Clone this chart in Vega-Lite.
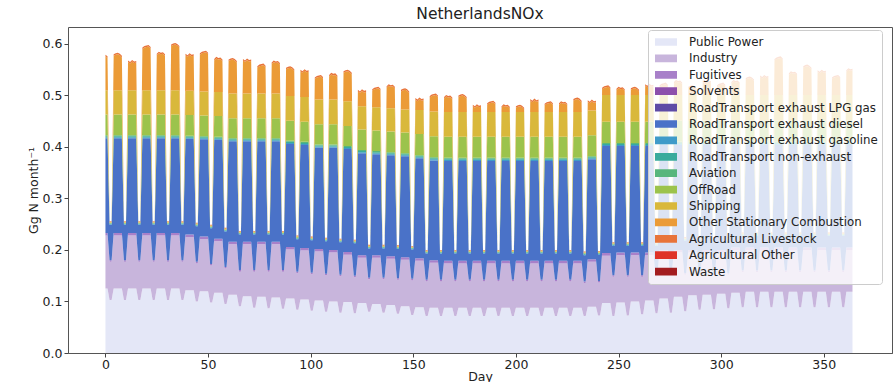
{
"$schema":"https://vega.github.io/schema/vega-lite/v6.json",
"width":824,"height":326,
"autosize":{"type":"none"},
"padding":{"left":68,"top":27,"right":2,"bottom":29},
"background":"white",
"title":{"text":"NetherlandsNOx","fontSize":15.5,"fontWeight":"normal","offset":5,"frame":"group","anchor":"middle","color":"#222","font":"DejaVu Sans"},
"config":{"font":"DejaVu Sans","view":{"stroke":"#555","strokeWidth":1},"axis":{"labelFontSize":12.5,"titleFontSize":12.5,"labelColor":"#222","titleColor":"#222","tickColor":"#444","tickSize":4,"labelPadding":2,"grid":false,"titleFontWeight":"normal"}},
"datasets":{"cat":[
{"key":"pp","name":"Public Power","k":0},
{"key":"ind","name":"Industry","k":1},
{"key":"fug","name":"Fugitives","k":2},
{"key":"dsl","name":"RoadTransport exhaust diesel","k":5},
{"key":"gas","name":"RoadTransport exhaust gasoline","k":6},
{"key":"nex","name":"RoadTransport non-exhaust","k":7},
{"key":"avi","name":"Aviation","k":8},
{"key":"off","name":"OffRoad","k":9},
{"key":"shp","name":"Shipping","k":10},
{"key":"osc","name":"Other Stationary Combustion","k":11},
{"key":"liv","name":"Agricultural Livestock","k":12}
]},
"data":{"values":[
{"d":0,"pp":0.125,"ind":0.103,"fug":0.005,"dsl":0.184,"gas":0.002,"nex":0.002,"avi":0.002,"off":0.04,"shp":0.047,"osc":0.066,"liv":0.003},
{"d":1,"pp":0.125,"ind":0.103,"fug":0.005,"dsl":0.184,"gas":0.002,"nex":0.002,"avi":0.002,"off":0.04,"shp":0.047,"osc":0.063,"liv":0.003},
{"d":2,"pp":0.103,"ind":0.074,"fug":0.003,"dsl":0.069,"gas":0.001,"nex":0.001,"avi":0.001,"off":0.001,"shp":0.001,"osc":0.001,"liv":0.001},
{"d":3,"pp":0.103,"ind":0.074,"fug":0.003,"dsl":0.069,"gas":0.001,"nex":0.001,"avi":0.001,"off":0.001,"shp":0.001,"osc":0.001,"liv":0.001},
{"d":4,"pp":0.125,"ind":0.103,"fug":0.005,"dsl":0.184,"gas":0.002,"nex":0.002,"avi":0.002,"off":0.04,"shp":0.047,"osc":0.067,"liv":0.003},
{"d":5,"pp":0.125,"ind":0.103,"fug":0.005,"dsl":0.184,"gas":0.002,"nex":0.002,"avi":0.002,"off":0.04,"shp":0.047,"osc":0.069,"liv":0.003},
{"d":6,"pp":0.125,"ind":0.103,"fug":0.005,"dsl":0.184,"gas":0.002,"nex":0.002,"avi":0.002,"off":0.04,"shp":0.047,"osc":0.070,"liv":0.003},
{"d":7,"pp":0.125,"ind":0.103,"fug":0.005,"dsl":0.184,"gas":0.002,"nex":0.002,"avi":0.002,"off":0.04,"shp":0.047,"osc":0.068,"liv":0.003},
{"d":8,"pp":0.125,"ind":0.103,"fug":0.005,"dsl":0.184,"gas":0.002,"nex":0.002,"avi":0.002,"off":0.04,"shp":0.047,"osc":0.064,"liv":0.003},
{"d":9,"pp":0.103,"ind":0.074,"fug":0.003,"dsl":0.069,"gas":0.001,"nex":0.001,"avi":0.001,"off":0.001,"shp":0.001,"osc":0.001,"liv":0.001},
{"d":10,"pp":0.103,"ind":0.074,"fug":0.003,"dsl":0.069,"gas":0.001,"nex":0.001,"avi":0.001,"off":0.001,"shp":0.001,"osc":0.001,"liv":0.001},
{"d":11,"pp":0.125,"ind":0.103,"fug":0.005,"dsl":0.184,"gas":0.002,"nex":0.002,"avi":0.002,"off":0.04,"shp":0.047,"osc":0.055,"liv":0.003},
{"d":12,"pp":0.125,"ind":0.103,"fug":0.005,"dsl":0.184,"gas":0.002,"nex":0.002,"avi":0.002,"off":0.04,"shp":0.047,"osc":0.052,"liv":0.003},
{"d":13,"pp":0.125,"ind":0.103,"fug":0.005,"dsl":0.184,"gas":0.002,"nex":0.002,"avi":0.002,"off":0.04,"shp":0.047,"osc":0.056,"liv":0.003},
{"d":14,"pp":0.125,"ind":0.103,"fug":0.005,"dsl":0.184,"gas":0.002,"nex":0.002,"avi":0.002,"off":0.04,"shp":0.047,"osc":0.053,"liv":0.003},
{"d":15,"pp":0.125,"ind":0.103,"fug":0.005,"dsl":0.184,"gas":0.002,"nex":0.002,"avi":0.002,"off":0.04,"shp":0.047,"osc":0.054,"liv":0.003},
{"d":16,"pp":0.103,"ind":0.074,"fug":0.003,"dsl":0.069,"gas":0.001,"nex":0.001,"avi":0.001,"off":0.001,"shp":0.001,"osc":0.001,"liv":0.001},
{"d":17,"pp":0.103,"ind":0.074,"fug":0.003,"dsl":0.069,"gas":0.001,"nex":0.001,"avi":0.001,"off":0.001,"shp":0.001,"osc":0.001,"liv":0.001},
{"d":18,"pp":0.125,"ind":0.103,"fug":0.005,"dsl":0.184,"gas":0.002,"nex":0.002,"avi":0.002,"off":0.04,"shp":0.047,"osc":0.080,"liv":0.003},
{"d":19,"pp":0.125,"ind":0.103,"fug":0.005,"dsl":0.184,"gas":0.002,"nex":0.002,"avi":0.002,"off":0.04,"shp":0.047,"osc":0.083,"liv":0.003},
{"d":20,"pp":0.125,"ind":0.103,"fug":0.005,"dsl":0.184,"gas":0.002,"nex":0.002,"avi":0.002,"off":0.04,"shp":0.047,"osc":0.084,"liv":0.003},
{"d":21,"pp":0.125,"ind":0.103,"fug":0.005,"dsl":0.184,"gas":0.002,"nex":0.002,"avi":0.002,"off":0.04,"shp":0.047,"osc":0.085,"liv":0.003},
{"d":22,"pp":0.125,"ind":0.103,"fug":0.005,"dsl":0.184,"gas":0.002,"nex":0.002,"avi":0.002,"off":0.04,"shp":0.047,"osc":0.081,"liv":0.003},
{"d":23,"pp":0.103,"ind":0.074,"fug":0.003,"dsl":0.069,"gas":0.001,"nex":0.001,"avi":0.001,"off":0.001,"shp":0.001,"osc":0.001,"liv":0.001},
{"d":24,"pp":0.103,"ind":0.074,"fug":0.003,"dsl":0.069,"gas":0.001,"nex":0.001,"avi":0.001,"off":0.001,"shp":0.001,"osc":0.001,"liv":0.001},
{"d":25,"pp":0.125,"ind":0.103,"fug":0.005,"dsl":0.184,"gas":0.002,"nex":0.002,"avi":0.002,"off":0.04,"shp":0.047,"osc":0.068,"liv":0.003},
{"d":26,"pp":0.125,"ind":0.103,"fug":0.005,"dsl":0.184,"gas":0.002,"nex":0.002,"avi":0.002,"off":0.04,"shp":0.047,"osc":0.072,"liv":0.003},
{"d":27,"pp":0.125,"ind":0.103,"fug":0.005,"dsl":0.184,"gas":0.002,"nex":0.002,"avi":0.002,"off":0.04,"shp":0.047,"osc":0.070,"liv":0.003},
{"d":28,"pp":0.125,"ind":0.103,"fug":0.005,"dsl":0.184,"gas":0.002,"nex":0.002,"avi":0.002,"off":0.04,"shp":0.047,"osc":0.071,"liv":0.003},
{"d":29,"pp":0.125,"ind":0.103,"fug":0.005,"dsl":0.184,"gas":0.002,"nex":0.002,"avi":0.002,"off":0.04,"shp":0.047,"osc":0.067,"liv":0.003},
{"d":30,"pp":0.103,"ind":0.074,"fug":0.003,"dsl":0.069,"gas":0.001,"nex":0.001,"avi":0.001,"off":0.001,"shp":0.001,"osc":0.001,"liv":0.001},
{"d":31,"pp":0.103,"ind":0.074,"fug":0.003,"dsl":0.069,"gas":0.001,"nex":0.001,"avi":0.001,"off":0.001,"shp":0.001,"osc":0.001,"liv":0.001},
{"d":32,"pp":0.125,"ind":0.103,"fug":0.005,"dsl":0.184,"gas":0.002,"nex":0.002,"avi":0.002,"off":0.04,"shp":0.047,"osc":0.086,"liv":0.003},
{"d":33,"pp":0.125,"ind":0.103,"fug":0.005,"dsl":0.184,"gas":0.002,"nex":0.002,"avi":0.002,"off":0.04,"shp":0.047,"osc":0.088,"liv":0.003},
{"d":34,"pp":0.125,"ind":0.103,"fug":0.005,"dsl":0.184,"gas":0.002,"nex":0.002,"avi":0.002,"off":0.04,"shp":0.047,"osc":0.089,"liv":0.003},
{"d":35,"pp":0.125,"ind":0.103,"fug":0.005,"dsl":0.184,"gas":0.002,"nex":0.002,"avi":0.002,"off":0.04,"shp":0.047,"osc":0.087,"liv":0.003},
{"d":36,"pp":0.125,"ind":0.103,"fug":0.005,"dsl":0.184,"gas":0.002,"nex":0.002,"avi":0.002,"off":0.04,"shp":0.047,"osc":0.083,"liv":0.003},
{"d":37,"pp":0.103,"ind":0.074,"fug":0.003,"dsl":0.069,"gas":0.001,"nex":0.001,"avi":0.001,"off":0.001,"shp":0.001,"osc":0.001,"liv":0.001},
{"d":38,"pp":0.103,"ind":0.074,"fug":0.003,"dsl":0.069,"gas":0.001,"nex":0.001,"avi":0.001,"off":0.001,"shp":0.001,"osc":0.001,"liv":0.001},
{"d":39,"pp":0.122,"ind":0.103,"fug":0.005,"dsl":0.186,"gas":0.002,"nex":0.002,"avi":0.002,"off":0.04,"shp":0.047,"osc":0.069,"liv":0.003},
{"d":40,"pp":0.122,"ind":0.103,"fug":0.005,"dsl":0.186,"gas":0.002,"nex":0.002,"avi":0.002,"off":0.04,"shp":0.047,"osc":0.066,"liv":0.003},
{"d":41,"pp":0.122,"ind":0.103,"fug":0.005,"dsl":0.186,"gas":0.002,"nex":0.002,"avi":0.002,"off":0.04,"shp":0.047,"osc":0.070,"liv":0.003},
{"d":42,"pp":0.122,"ind":0.103,"fug":0.005,"dsl":0.186,"gas":0.002,"nex":0.002,"avi":0.002,"off":0.04,"shp":0.047,"osc":0.067,"liv":0.003},
{"d":43,"pp":0.122,"ind":0.103,"fug":0.005,"dsl":0.186,"gas":0.002,"nex":0.002,"avi":0.002,"off":0.04,"shp":0.047,"osc":0.068,"liv":0.003},
{"d":44,"pp":0.100,"ind":0.074,"fug":0.003,"dsl":0.069,"gas":0.001,"nex":0.001,"avi":0.001,"off":0.001,"shp":0.001,"osc":0.001,"liv":0.001},
{"d":45,"pp":0.100,"ind":0.074,"fug":0.003,"dsl":0.069,"gas":0.001,"nex":0.001,"avi":0.001,"off":0.001,"shp":0.001,"osc":0.001,"liv":0.001},
{"d":46,"pp":0.120,"ind":0.101,"fug":0.005,"dsl":0.189,"gas":0.002,"nex":0.002,"avi":0.002,"off":0.04,"shp":0.047,"osc":0.071,"liv":0.003},
{"d":47,"pp":0.120,"ind":0.101,"fug":0.005,"dsl":0.189,"gas":0.002,"nex":0.002,"avi":0.002,"off":0.04,"shp":0.047,"osc":0.074,"liv":0.003},
{"d":48,"pp":0.120,"ind":0.101,"fug":0.005,"dsl":0.189,"gas":0.002,"nex":0.002,"avi":0.002,"off":0.04,"shp":0.047,"osc":0.075,"liv":0.003},
{"d":49,"pp":0.120,"ind":0.101,"fug":0.005,"dsl":0.189,"gas":0.002,"nex":0.002,"avi":0.002,"off":0.04,"shp":0.047,"osc":0.076,"liv":0.003},
{"d":50,"pp":0.120,"ind":0.101,"fug":0.005,"dsl":0.189,"gas":0.002,"nex":0.002,"avi":0.002,"off":0.04,"shp":0.047,"osc":0.072,"liv":0.003},
{"d":51,"pp":0.098,"ind":0.072,"fug":0.003,"dsl":0.069,"gas":0.001,"nex":0.001,"avi":0.001,"off":0.001,"shp":0.001,"osc":0.001,"liv":0.001},
{"d":52,"pp":0.098,"ind":0.072,"fug":0.003,"dsl":0.069,"gas":0.001,"nex":0.001,"avi":0.001,"off":0.001,"shp":0.001,"osc":0.001,"liv":0.001},
{"d":53,"pp":0.117,"ind":0.100,"fug":0.005,"dsl":0.192,"gas":0.002,"nex":0.002,"avi":0.002,"off":0.04,"shp":0.047,"osc":0.061,"liv":0.003},
{"d":54,"pp":0.117,"ind":0.100,"fug":0.005,"dsl":0.192,"gas":0.002,"nex":0.002,"avi":0.002,"off":0.04,"shp":0.047,"osc":0.065,"liv":0.003},
{"d":55,"pp":0.117,"ind":0.100,"fug":0.005,"dsl":0.192,"gas":0.002,"nex":0.002,"avi":0.002,"off":0.04,"shp":0.047,"osc":0.063,"liv":0.003},
{"d":56,"pp":0.117,"ind":0.100,"fug":0.005,"dsl":0.192,"gas":0.002,"nex":0.002,"avi":0.002,"off":0.04,"shp":0.047,"osc":0.064,"liv":0.003},
{"d":57,"pp":0.117,"ind":0.100,"fug":0.005,"dsl":0.192,"gas":0.002,"nex":0.002,"avi":0.002,"off":0.04,"shp":0.047,"osc":0.060,"liv":0.003},
{"d":58,"pp":0.095,"ind":0.069,"fug":0.003,"dsl":0.069,"gas":0.001,"nex":0.001,"avi":0.001,"off":0.001,"shp":0.001,"osc":0.001,"liv":0.001},
{"d":59,"pp":0.095,"ind":0.069,"fug":0.003,"dsl":0.069,"gas":0.001,"nex":0.001,"avi":0.001,"off":0.001,"shp":0.001,"osc":0.001,"liv":0.001},
{"d":60,"pp":0.113,"ind":0.098,"fug":0.005,"dsl":0.195,"gas":0.002,"nex":0.002,"avi":0.002,"off":0.039,"shp":0.048,"osc":0.063,"liv":0.003},
{"d":61,"pp":0.113,"ind":0.098,"fug":0.005,"dsl":0.195,"gas":0.002,"nex":0.002,"avi":0.002,"off":0.039,"shp":0.048,"osc":0.065,"liv":0.003},
{"d":62,"pp":0.113,"ind":0.098,"fug":0.005,"dsl":0.195,"gas":0.002,"nex":0.002,"avi":0.002,"off":0.039,"shp":0.048,"osc":0.066,"liv":0.003},
{"d":63,"pp":0.113,"ind":0.098,"fug":0.005,"dsl":0.195,"gas":0.002,"nex":0.002,"avi":0.002,"off":0.039,"shp":0.048,"osc":0.064,"liv":0.003},
{"d":64,"pp":0.113,"ind":0.098,"fug":0.005,"dsl":0.195,"gas":0.002,"nex":0.002,"avi":0.002,"off":0.039,"shp":0.048,"osc":0.060,"liv":0.003},
{"d":65,"pp":0.091,"ind":0.067,"fug":0.003,"dsl":0.069,"gas":0.001,"nex":0.001,"avi":0.001,"off":0.001,"shp":0.001,"osc":0.001,"liv":0.001},
{"d":66,"pp":0.091,"ind":0.067,"fug":0.003,"dsl":0.069,"gas":0.001,"nex":0.001,"avi":0.001,"off":0.001,"shp":0.001,"osc":0.001,"liv":0.001},
{"d":67,"pp":0.110,"ind":0.101,"fug":0.005,"dsl":0.195,"gas":0.002,"nex":0.002,"avi":0.002,"off":0.039,"shp":0.048,"osc":0.064,"liv":0.003},
{"d":68,"pp":0.110,"ind":0.101,"fug":0.005,"dsl":0.195,"gas":0.002,"nex":0.002,"avi":0.002,"off":0.039,"shp":0.048,"osc":0.061,"liv":0.003},
{"d":69,"pp":0.110,"ind":0.101,"fug":0.005,"dsl":0.195,"gas":0.002,"nex":0.002,"avi":0.002,"off":0.039,"shp":0.048,"osc":0.065,"liv":0.003},
{"d":70,"pp":0.110,"ind":0.101,"fug":0.005,"dsl":0.195,"gas":0.002,"nex":0.002,"avi":0.002,"off":0.039,"shp":0.048,"osc":0.062,"liv":0.003},
{"d":71,"pp":0.110,"ind":0.101,"fug":0.005,"dsl":0.195,"gas":0.002,"nex":0.002,"avi":0.002,"off":0.039,"shp":0.048,"osc":0.063,"liv":0.003},
{"d":72,"pp":0.088,"ind":0.070,"fug":0.003,"dsl":0.069,"gas":0.001,"nex":0.001,"avi":0.001,"off":0.001,"shp":0.001,"osc":0.001,"liv":0.001},
{"d":73,"pp":0.088,"ind":0.070,"fug":0.003,"dsl":0.069,"gas":0.001,"nex":0.001,"avi":0.001,"off":0.001,"shp":0.001,"osc":0.001,"liv":0.001},
{"d":74,"pp":0.109,"ind":0.102,"fug":0.005,"dsl":0.195,"gas":0.002,"nex":0.002,"avi":0.002,"off":0.039,"shp":0.048,"osc":0.050,"liv":0.003},
{"d":75,"pp":0.109,"ind":0.102,"fug":0.005,"dsl":0.195,"gas":0.002,"nex":0.002,"avi":0.002,"off":0.039,"shp":0.048,"osc":0.053,"liv":0.003},
{"d":76,"pp":0.109,"ind":0.102,"fug":0.005,"dsl":0.195,"gas":0.002,"nex":0.002,"avi":0.002,"off":0.039,"shp":0.048,"osc":0.054,"liv":0.003},
{"d":77,"pp":0.109,"ind":0.102,"fug":0.005,"dsl":0.195,"gas":0.002,"nex":0.002,"avi":0.002,"off":0.039,"shp":0.048,"osc":0.055,"liv":0.003},
{"d":78,"pp":0.109,"ind":0.102,"fug":0.005,"dsl":0.195,"gas":0.002,"nex":0.002,"avi":0.002,"off":0.039,"shp":0.048,"osc":0.051,"liv":0.003},
{"d":79,"pp":0.087,"ind":0.071,"fug":0.003,"dsl":0.069,"gas":0.001,"nex":0.001,"avi":0.001,"off":0.001,"shp":0.001,"osc":0.001,"liv":0.001},
{"d":80,"pp":0.087,"ind":0.071,"fug":0.003,"dsl":0.069,"gas":0.001,"nex":0.001,"avi":0.001,"off":0.001,"shp":0.001,"osc":0.001,"liv":0.001},
{"d":81,"pp":0.108,"ind":0.103,"fug":0.005,"dsl":0.195,"gas":0.002,"nex":0.002,"avi":0.002,"off":0.039,"shp":0.048,"osc":0.057,"liv":0.003},
{"d":82,"pp":0.108,"ind":0.103,"fug":0.005,"dsl":0.195,"gas":0.002,"nex":0.002,"avi":0.002,"off":0.039,"shp":0.048,"osc":0.061,"liv":0.003},
{"d":83,"pp":0.108,"ind":0.103,"fug":0.005,"dsl":0.195,"gas":0.002,"nex":0.002,"avi":0.002,"off":0.039,"shp":0.048,"osc":0.059,"liv":0.003},
{"d":84,"pp":0.108,"ind":0.103,"fug":0.005,"dsl":0.195,"gas":0.002,"nex":0.002,"avi":0.002,"off":0.039,"shp":0.048,"osc":0.060,"liv":0.003},
{"d":85,"pp":0.108,"ind":0.103,"fug":0.005,"dsl":0.195,"gas":0.002,"nex":0.002,"avi":0.002,"off":0.039,"shp":0.048,"osc":0.056,"liv":0.003},
{"d":86,"pp":0.086,"ind":0.072,"fug":0.003,"dsl":0.069,"gas":0.001,"nex":0.001,"avi":0.001,"off":0.001,"shp":0.001,"osc":0.001,"liv":0.001},
{"d":87,"pp":0.086,"ind":0.072,"fug":0.003,"dsl":0.069,"gas":0.001,"nex":0.001,"avi":0.001,"off":0.001,"shp":0.001,"osc":0.001,"liv":0.001},
{"d":88,"pp":0.106,"ind":0.095,"fug":0.005,"dsl":0.200,"gas":0.002,"nex":0.002,"avi":0.002,"off":0.039,"shp":0.048,"osc":0.052,"liv":0.003},
{"d":89,"pp":0.106,"ind":0.095,"fug":0.005,"dsl":0.200,"gas":0.002,"nex":0.002,"avi":0.002,"off":0.039,"shp":0.048,"osc":0.054,"liv":0.003},
{"d":90,"pp":0.106,"ind":0.095,"fug":0.005,"dsl":0.200,"gas":0.002,"nex":0.002,"avi":0.002,"off":0.039,"shp":0.048,"osc":0.055,"liv":0.003},
{"d":91,"pp":0.106,"ind":0.095,"fug":0.005,"dsl":0.200,"gas":0.002,"nex":0.002,"avi":0.002,"off":0.039,"shp":0.048,"osc":0.053,"liv":0.003},
{"d":92,"pp":0.106,"ind":0.095,"fug":0.005,"dsl":0.200,"gas":0.002,"nex":0.002,"avi":0.002,"off":0.039,"shp":0.048,"osc":0.049,"liv":0.003},
{"d":93,"pp":0.084,"ind":0.071,"fug":0.003,"dsl":0.063,"gas":0.001,"nex":0.001,"avi":0.001,"off":0.001,"shp":0.001,"osc":0.001,"liv":0.001},
{"d":94,"pp":0.084,"ind":0.071,"fug":0.003,"dsl":0.063,"gas":0.001,"nex":0.001,"avi":0.001,"off":0.001,"shp":0.001,"osc":0.001,"liv":0.001},
{"d":95,"pp":0.104,"ind":0.095,"fug":0.005,"dsl":0.200,"gas":0.002,"nex":0.002,"avi":0.002,"off":0.039,"shp":0.048,"osc":0.050,"liv":0.003},
{"d":96,"pp":0.104,"ind":0.095,"fug":0.005,"dsl":0.200,"gas":0.002,"nex":0.002,"avi":0.002,"off":0.039,"shp":0.048,"osc":0.047,"liv":0.003},
{"d":97,"pp":0.104,"ind":0.095,"fug":0.005,"dsl":0.200,"gas":0.002,"nex":0.002,"avi":0.002,"off":0.039,"shp":0.048,"osc":0.051,"liv":0.003},
{"d":98,"pp":0.104,"ind":0.095,"fug":0.005,"dsl":0.200,"gas":0.002,"nex":0.002,"avi":0.002,"off":0.039,"shp":0.048,"osc":0.048,"liv":0.003},
{"d":99,"pp":0.104,"ind":0.095,"fug":0.005,"dsl":0.200,"gas":0.002,"nex":0.002,"avi":0.002,"off":0.039,"shp":0.048,"osc":0.049,"liv":0.003},
{"d":100,"pp":0.082,"ind":0.071,"fug":0.003,"dsl":0.063,"gas":0.001,"nex":0.001,"avi":0.001,"off":0.001,"shp":0.001,"osc":0.001,"liv":0.001},
{"d":101,"pp":0.082,"ind":0.071,"fug":0.003,"dsl":0.063,"gas":0.001,"nex":0.001,"avi":0.001,"off":0.001,"shp":0.001,"osc":0.001,"liv":0.001},
{"d":102,"pp":0.102,"ind":0.095,"fug":0.005,"dsl":0.197,"gas":0.002,"nex":0.002,"avi":0.002,"off":0.039,"shp":0.048,"osc":0.040,"liv":0.003},
{"d":103,"pp":0.102,"ind":0.095,"fug":0.005,"dsl":0.197,"gas":0.002,"nex":0.002,"avi":0.002,"off":0.039,"shp":0.048,"osc":0.043,"liv":0.003},
{"d":104,"pp":0.102,"ind":0.095,"fug":0.005,"dsl":0.197,"gas":0.002,"nex":0.002,"avi":0.002,"off":0.039,"shp":0.048,"osc":0.044,"liv":0.003},
{"d":105,"pp":0.102,"ind":0.095,"fug":0.005,"dsl":0.197,"gas":0.002,"nex":0.002,"avi":0.002,"off":0.039,"shp":0.048,"osc":0.045,"liv":0.003},
{"d":106,"pp":0.102,"ind":0.095,"fug":0.005,"dsl":0.197,"gas":0.002,"nex":0.002,"avi":0.002,"off":0.039,"shp":0.048,"osc":0.041,"liv":0.003},
{"d":107,"pp":0.080,"ind":0.071,"fug":0.003,"dsl":0.063,"gas":0.001,"nex":0.001,"avi":0.001,"off":0.001,"shp":0.001,"osc":0.001,"liv":0.001},
{"d":108,"pp":0.080,"ind":0.071,"fug":0.003,"dsl":0.063,"gas":0.001,"nex":0.001,"avi":0.001,"off":0.001,"shp":0.001,"osc":0.001,"liv":0.001},
{"d":109,"pp":0.100,"ind":0.095,"fug":0.005,"dsl":0.199,"gas":0.002,"nex":0.002,"avi":0.002,"off":0.039,"shp":0.048,"osc":0.045,"liv":0.003},
{"d":110,"pp":0.100,"ind":0.095,"fug":0.005,"dsl":0.199,"gas":0.002,"nex":0.002,"avi":0.002,"off":0.039,"shp":0.048,"osc":0.049,"liv":0.003},
{"d":111,"pp":0.100,"ind":0.095,"fug":0.005,"dsl":0.199,"gas":0.002,"nex":0.002,"avi":0.002,"off":0.039,"shp":0.048,"osc":0.047,"liv":0.003},
{"d":112,"pp":0.100,"ind":0.095,"fug":0.005,"dsl":0.199,"gas":0.002,"nex":0.002,"avi":0.002,"off":0.039,"shp":0.048,"osc":0.048,"liv":0.003},
{"d":113,"pp":0.100,"ind":0.095,"fug":0.005,"dsl":0.199,"gas":0.002,"nex":0.002,"avi":0.002,"off":0.039,"shp":0.048,"osc":0.044,"liv":0.003},
{"d":114,"pp":0.078,"ind":0.071,"fug":0.003,"dsl":0.063,"gas":0.001,"nex":0.001,"avi":0.001,"off":0.001,"shp":0.001,"osc":0.001,"liv":0.001},
{"d":115,"pp":0.078,"ind":0.071,"fug":0.003,"dsl":0.063,"gas":0.001,"nex":0.001,"avi":0.001,"off":0.001,"shp":0.001,"osc":0.001,"liv":0.001},
{"d":116,"pp":0.099,"ind":0.092,"fug":0.005,"dsl":0.200,"gas":0.002,"nex":0.002,"avi":0.002,"off":0.039,"shp":0.048,"osc":0.055,"liv":0.003},
{"d":117,"pp":0.099,"ind":0.092,"fug":0.005,"dsl":0.200,"gas":0.002,"nex":0.002,"avi":0.002,"off":0.039,"shp":0.048,"osc":0.057,"liv":0.003},
{"d":118,"pp":0.099,"ind":0.092,"fug":0.005,"dsl":0.200,"gas":0.002,"nex":0.002,"avi":0.002,"off":0.039,"shp":0.048,"osc":0.058,"liv":0.003},
{"d":119,"pp":0.099,"ind":0.092,"fug":0.005,"dsl":0.200,"gas":0.002,"nex":0.002,"avi":0.002,"off":0.039,"shp":0.048,"osc":0.056,"liv":0.003},
{"d":120,"pp":0.099,"ind":0.092,"fug":0.005,"dsl":0.200,"gas":0.002,"nex":0.002,"avi":0.002,"off":0.039,"shp":0.048,"osc":0.052,"liv":0.003},
{"d":121,"pp":0.077,"ind":0.070,"fug":0.003,"dsl":0.063,"gas":0.001,"nex":0.001,"avi":0.001,"off":0.001,"shp":0.001,"osc":0.001,"liv":0.001},
{"d":122,"pp":0.077,"ind":0.070,"fug":0.003,"dsl":0.063,"gas":0.001,"nex":0.001,"avi":0.001,"off":0.001,"shp":0.001,"osc":0.001,"liv":0.001},
{"d":123,"pp":0.097,"ind":0.088,"fug":0.005,"dsl":0.198,"gas":0.002,"nex":0.002,"avi":0.002,"off":0.04,"shp":0.045,"osc":0.029,"liv":0.003},
{"d":124,"pp":0.097,"ind":0.088,"fug":0.005,"dsl":0.198,"gas":0.002,"nex":0.002,"avi":0.002,"off":0.04,"shp":0.045,"osc":0.026,"liv":0.003},
{"d":125,"pp":0.097,"ind":0.088,"fug":0.005,"dsl":0.198,"gas":0.002,"nex":0.002,"avi":0.002,"off":0.04,"shp":0.045,"osc":0.030,"liv":0.003},
{"d":126,"pp":0.097,"ind":0.088,"fug":0.005,"dsl":0.198,"gas":0.002,"nex":0.002,"avi":0.002,"off":0.04,"shp":0.045,"osc":0.027,"liv":0.003},
{"d":127,"pp":0.097,"ind":0.088,"fug":0.005,"dsl":0.198,"gas":0.002,"nex":0.002,"avi":0.002,"off":0.04,"shp":0.045,"osc":0.028,"liv":0.003},
{"d":128,"pp":0.080,"ind":0.063,"fug":0.003,"dsl":0.057,"gas":0.001,"nex":0.001,"avi":0.001,"off":0.001,"shp":0.001,"osc":0.001,"liv":0.001},
{"d":129,"pp":0.080,"ind":0.063,"fug":0.003,"dsl":0.057,"gas":0.001,"nex":0.001,"avi":0.001,"off":0.001,"shp":0.001,"osc":0.001,"liv":0.001},
{"d":130,"pp":0.095,"ind":0.090,"fug":0.005,"dsl":0.196,"gas":0.002,"nex":0.002,"avi":0.002,"off":0.04,"shp":0.045,"osc":0.032,"liv":0.003},
{"d":131,"pp":0.095,"ind":0.090,"fug":0.005,"dsl":0.196,"gas":0.002,"nex":0.002,"avi":0.002,"off":0.04,"shp":0.045,"osc":0.035,"liv":0.003},
{"d":132,"pp":0.095,"ind":0.090,"fug":0.005,"dsl":0.196,"gas":0.002,"nex":0.002,"avi":0.002,"off":0.04,"shp":0.045,"osc":0.036,"liv":0.003},
{"d":133,"pp":0.095,"ind":0.090,"fug":0.005,"dsl":0.196,"gas":0.002,"nex":0.002,"avi":0.002,"off":0.04,"shp":0.045,"osc":0.037,"liv":0.003},
{"d":134,"pp":0.095,"ind":0.090,"fug":0.005,"dsl":0.196,"gas":0.002,"nex":0.002,"avi":0.002,"off":0.04,"shp":0.045,"osc":0.033,"liv":0.003},
{"d":135,"pp":0.078,"ind":0.065,"fug":0.003,"dsl":0.057,"gas":0.001,"nex":0.001,"avi":0.001,"off":0.001,"shp":0.001,"osc":0.001,"liv":0.001},
{"d":136,"pp":0.078,"ind":0.065,"fug":0.003,"dsl":0.057,"gas":0.001,"nex":0.001,"avi":0.001,"off":0.001,"shp":0.001,"osc":0.001,"liv":0.001},
{"d":137,"pp":0.093,"ind":0.090,"fug":0.005,"dsl":0.196,"gas":0.002,"nex":0.002,"avi":0.002,"off":0.04,"shp":0.045,"osc":0.040,"liv":0.003},
{"d":138,"pp":0.093,"ind":0.090,"fug":0.005,"dsl":0.196,"gas":0.002,"nex":0.002,"avi":0.002,"off":0.04,"shp":0.045,"osc":0.044,"liv":0.003},
{"d":139,"pp":0.093,"ind":0.090,"fug":0.005,"dsl":0.196,"gas":0.002,"nex":0.002,"avi":0.002,"off":0.04,"shp":0.045,"osc":0.042,"liv":0.003},
{"d":140,"pp":0.093,"ind":0.090,"fug":0.005,"dsl":0.196,"gas":0.002,"nex":0.002,"avi":0.002,"off":0.04,"shp":0.045,"osc":0.043,"liv":0.003},
{"d":141,"pp":0.093,"ind":0.090,"fug":0.005,"dsl":0.196,"gas":0.002,"nex":0.002,"avi":0.002,"off":0.04,"shp":0.045,"osc":0.039,"liv":0.003},
{"d":142,"pp":0.076,"ind":0.066,"fug":0.003,"dsl":0.057,"gas":0.001,"nex":0.001,"avi":0.001,"off":0.001,"shp":0.001,"osc":0.001,"liv":0.001},
{"d":143,"pp":0.076,"ind":0.066,"fug":0.003,"dsl":0.057,"gas":0.001,"nex":0.001,"avi":0.001,"off":0.001,"shp":0.001,"osc":0.001,"liv":0.001},
{"d":144,"pp":0.091,"ind":0.090,"fug":0.005,"dsl":0.196,"gas":0.002,"nex":0.002,"avi":0.002,"off":0.04,"shp":0.045,"osc":0.035,"liv":0.003},
{"d":145,"pp":0.091,"ind":0.090,"fug":0.005,"dsl":0.196,"gas":0.002,"nex":0.002,"avi":0.002,"off":0.04,"shp":0.045,"osc":0.037,"liv":0.003},
{"d":146,"pp":0.091,"ind":0.090,"fug":0.005,"dsl":0.196,"gas":0.002,"nex":0.002,"avi":0.002,"off":0.04,"shp":0.045,"osc":0.038,"liv":0.003},
{"d":147,"pp":0.091,"ind":0.090,"fug":0.005,"dsl":0.196,"gas":0.002,"nex":0.002,"avi":0.002,"off":0.04,"shp":0.045,"osc":0.036,"liv":0.003},
{"d":148,"pp":0.091,"ind":0.090,"fug":0.005,"dsl":0.196,"gas":0.002,"nex":0.002,"avi":0.002,"off":0.04,"shp":0.045,"osc":0.032,"liv":0.003},
{"d":149,"pp":0.074,"ind":0.067,"fug":0.003,"dsl":0.057,"gas":0.001,"nex":0.001,"avi":0.001,"off":0.001,"shp":0.001,"osc":0.001,"liv":0.001},
{"d":150,"pp":0.074,"ind":0.067,"fug":0.003,"dsl":0.057,"gas":0.001,"nex":0.001,"avi":0.001,"off":0.001,"shp":0.001,"osc":0.001,"liv":0.001},
{"d":151,"pp":0.089,"ind":0.090,"fug":0.005,"dsl":0.194,"gas":0.002,"nex":0.002,"avi":0.002,"off":0.041,"shp":0.047,"osc":0.020,"liv":0.003},
{"d":152,"pp":0.089,"ind":0.090,"fug":0.005,"dsl":0.194,"gas":0.002,"nex":0.002,"avi":0.002,"off":0.041,"shp":0.047,"osc":0.017,"liv":0.003},
{"d":153,"pp":0.089,"ind":0.090,"fug":0.005,"dsl":0.194,"gas":0.002,"nex":0.002,"avi":0.002,"off":0.041,"shp":0.047,"osc":0.021,"liv":0.003},
{"d":154,"pp":0.089,"ind":0.090,"fug":0.005,"dsl":0.194,"gas":0.002,"nex":0.002,"avi":0.002,"off":0.041,"shp":0.047,"osc":0.018,"liv":0.003},
{"d":155,"pp":0.089,"ind":0.090,"fug":0.005,"dsl":0.194,"gas":0.002,"nex":0.002,"avi":0.002,"off":0.041,"shp":0.047,"osc":0.019,"liv":0.003},
{"d":156,"pp":0.072,"ind":0.067,"fug":0.003,"dsl":0.051,"gas":0.001,"nex":0.001,"avi":0.001,"off":0.001,"shp":0.001,"osc":0.001,"liv":0.001},
{"d":157,"pp":0.072,"ind":0.067,"fug":0.003,"dsl":0.051,"gas":0.001,"nex":0.001,"avi":0.001,"off":0.001,"shp":0.001,"osc":0.001,"liv":0.001},
{"d":158,"pp":0.088,"ind":0.087,"fug":0.005,"dsl":0.194,"gas":0.002,"nex":0.002,"avi":0.002,"off":0.041,"shp":0.048,"osc":0.027,"liv":0.003},
{"d":159,"pp":0.088,"ind":0.087,"fug":0.005,"dsl":0.194,"gas":0.002,"nex":0.002,"avi":0.002,"off":0.041,"shp":0.048,"osc":0.030,"liv":0.003},
{"d":160,"pp":0.088,"ind":0.087,"fug":0.005,"dsl":0.194,"gas":0.002,"nex":0.002,"avi":0.002,"off":0.041,"shp":0.048,"osc":0.031,"liv":0.003},
{"d":161,"pp":0.088,"ind":0.087,"fug":0.005,"dsl":0.194,"gas":0.002,"nex":0.002,"avi":0.002,"off":0.041,"shp":0.048,"osc":0.032,"liv":0.003},
{"d":162,"pp":0.088,"ind":0.087,"fug":0.005,"dsl":0.194,"gas":0.002,"nex":0.002,"avi":0.002,"off":0.041,"shp":0.048,"osc":0.028,"liv":0.003},
{"d":163,"pp":0.072,"ind":0.067,"fug":0.003,"dsl":0.051,"gas":0.001,"nex":0.001,"avi":0.001,"off":0.001,"shp":0.001,"osc":0.001,"liv":0.001},
{"d":164,"pp":0.072,"ind":0.067,"fug":0.003,"dsl":0.051,"gas":0.001,"nex":0.001,"avi":0.001,"off":0.001,"shp":0.001,"osc":0.001,"liv":0.001},
{"d":165,"pp":0.088,"ind":0.086,"fug":0.005,"dsl":0.194,"gas":0.002,"nex":0.002,"avi":0.002,"off":0.041,"shp":0.048,"osc":0.026,"liv":0.003},
{"d":166,"pp":0.088,"ind":0.086,"fug":0.005,"dsl":0.194,"gas":0.002,"nex":0.002,"avi":0.002,"off":0.041,"shp":0.048,"osc":0.030,"liv":0.003},
{"d":167,"pp":0.088,"ind":0.086,"fug":0.005,"dsl":0.194,"gas":0.002,"nex":0.002,"avi":0.002,"off":0.041,"shp":0.048,"osc":0.028,"liv":0.003},
{"d":168,"pp":0.088,"ind":0.086,"fug":0.005,"dsl":0.194,"gas":0.002,"nex":0.002,"avi":0.002,"off":0.041,"shp":0.048,"osc":0.029,"liv":0.003},
{"d":169,"pp":0.088,"ind":0.086,"fug":0.005,"dsl":0.194,"gas":0.002,"nex":0.002,"avi":0.002,"off":0.041,"shp":0.048,"osc":0.025,"liv":0.003},
{"d":170,"pp":0.072,"ind":0.067,"fug":0.003,"dsl":0.051,"gas":0.001,"nex":0.001,"avi":0.001,"off":0.001,"shp":0.001,"osc":0.001,"liv":0.001},
{"d":171,"pp":0.072,"ind":0.067,"fug":0.003,"dsl":0.051,"gas":0.001,"nex":0.001,"avi":0.001,"off":0.001,"shp":0.001,"osc":0.001,"liv":0.001},
{"d":172,"pp":0.088,"ind":0.086,"fug":0.005,"dsl":0.194,"gas":0.002,"nex":0.002,"avi":0.002,"off":0.041,"shp":0.048,"osc":0.029,"liv":0.003},
{"d":173,"pp":0.088,"ind":0.086,"fug":0.005,"dsl":0.194,"gas":0.002,"nex":0.002,"avi":0.002,"off":0.041,"shp":0.048,"osc":0.031,"liv":0.003},
{"d":174,"pp":0.088,"ind":0.086,"fug":0.005,"dsl":0.194,"gas":0.002,"nex":0.002,"avi":0.002,"off":0.041,"shp":0.048,"osc":0.032,"liv":0.003},
{"d":175,"pp":0.088,"ind":0.086,"fug":0.005,"dsl":0.194,"gas":0.002,"nex":0.002,"avi":0.002,"off":0.041,"shp":0.048,"osc":0.030,"liv":0.003},
{"d":176,"pp":0.088,"ind":0.086,"fug":0.005,"dsl":0.194,"gas":0.002,"nex":0.002,"avi":0.002,"off":0.041,"shp":0.048,"osc":0.026,"liv":0.003},
{"d":177,"pp":0.072,"ind":0.067,"fug":0.003,"dsl":0.051,"gas":0.001,"nex":0.001,"avi":0.001,"off":0.001,"shp":0.001,"osc":0.001,"liv":0.001},
{"d":178,"pp":0.072,"ind":0.067,"fug":0.003,"dsl":0.051,"gas":0.001,"nex":0.001,"avi":0.001,"off":0.001,"shp":0.001,"osc":0.001,"liv":0.001},
{"d":179,"pp":0.088,"ind":0.086,"fug":0.005,"dsl":0.194,"gas":0.002,"nex":0.002,"avi":0.002,"off":0.041,"shp":0.048,"osc":0.011,"liv":0.003},
{"d":180,"pp":0.088,"ind":0.086,"fug":0.005,"dsl":0.194,"gas":0.002,"nex":0.002,"avi":0.002,"off":0.041,"shp":0.048,"osc":0.008,"liv":0.003},
{"d":181,"pp":0.088,"ind":0.086,"fug":0.005,"dsl":0.194,"gas":0.002,"nex":0.002,"avi":0.002,"off":0.041,"shp":0.048,"osc":0.012,"liv":0.003},
{"d":182,"pp":0.088,"ind":0.086,"fug":0.005,"dsl":0.194,"gas":0.002,"nex":0.002,"avi":0.002,"off":0.041,"shp":0.048,"osc":0.009,"liv":0.003},
{"d":183,"pp":0.088,"ind":0.086,"fug":0.005,"dsl":0.194,"gas":0.002,"nex":0.002,"avi":0.002,"off":0.041,"shp":0.048,"osc":0.010,"liv":0.003},
{"d":184,"pp":0.072,"ind":0.067,"fug":0.003,"dsl":0.051,"gas":0.001,"nex":0.001,"avi":0.001,"off":0.001,"shp":0.001,"osc":0.001,"liv":0.001},
{"d":185,"pp":0.072,"ind":0.067,"fug":0.003,"dsl":0.051,"gas":0.001,"nex":0.001,"avi":0.001,"off":0.001,"shp":0.001,"osc":0.001,"liv":0.001},
{"d":186,"pp":0.088,"ind":0.086,"fug":0.005,"dsl":0.194,"gas":0.002,"nex":0.002,"avi":0.002,"off":0.041,"shp":0.048,"osc":0.014,"liv":0.003},
{"d":187,"pp":0.088,"ind":0.086,"fug":0.005,"dsl":0.194,"gas":0.002,"nex":0.002,"avi":0.002,"off":0.041,"shp":0.048,"osc":0.017,"liv":0.003},
{"d":188,"pp":0.088,"ind":0.086,"fug":0.005,"dsl":0.194,"gas":0.002,"nex":0.002,"avi":0.002,"off":0.041,"shp":0.048,"osc":0.018,"liv":0.003},
{"d":189,"pp":0.088,"ind":0.086,"fug":0.005,"dsl":0.194,"gas":0.002,"nex":0.002,"avi":0.002,"off":0.041,"shp":0.048,"osc":0.019,"liv":0.003},
{"d":190,"pp":0.088,"ind":0.086,"fug":0.005,"dsl":0.194,"gas":0.002,"nex":0.002,"avi":0.002,"off":0.041,"shp":0.048,"osc":0.015,"liv":0.003},
{"d":191,"pp":0.072,"ind":0.067,"fug":0.003,"dsl":0.051,"gas":0.001,"nex":0.001,"avi":0.001,"off":0.001,"shp":0.001,"osc":0.001,"liv":0.001},
{"d":192,"pp":0.072,"ind":0.067,"fug":0.003,"dsl":0.051,"gas":0.001,"nex":0.001,"avi":0.001,"off":0.001,"shp":0.001,"osc":0.001,"liv":0.001},
{"d":193,"pp":0.088,"ind":0.086,"fug":0.005,"dsl":0.194,"gas":0.002,"nex":0.002,"avi":0.002,"off":0.041,"shp":0.048,"osc":0.008,"liv":0.003},
{"d":194,"pp":0.088,"ind":0.086,"fug":0.005,"dsl":0.194,"gas":0.002,"nex":0.002,"avi":0.002,"off":0.041,"shp":0.048,"osc":0.012,"liv":0.003},
{"d":195,"pp":0.088,"ind":0.086,"fug":0.005,"dsl":0.194,"gas":0.002,"nex":0.002,"avi":0.002,"off":0.041,"shp":0.048,"osc":0.010,"liv":0.003},
{"d":196,"pp":0.088,"ind":0.086,"fug":0.005,"dsl":0.194,"gas":0.002,"nex":0.002,"avi":0.002,"off":0.041,"shp":0.048,"osc":0.011,"liv":0.003},
{"d":197,"pp":0.088,"ind":0.086,"fug":0.005,"dsl":0.194,"gas":0.002,"nex":0.002,"avi":0.002,"off":0.041,"shp":0.048,"osc":0.007,"liv":0.003},
{"d":198,"pp":0.072,"ind":0.067,"fug":0.003,"dsl":0.051,"gas":0.001,"nex":0.001,"avi":0.001,"off":0.001,"shp":0.001,"osc":0.001,"liv":0.001},
{"d":199,"pp":0.072,"ind":0.067,"fug":0.003,"dsl":0.051,"gas":0.001,"nex":0.001,"avi":0.001,"off":0.001,"shp":0.001,"osc":0.001,"liv":0.001},
{"d":200,"pp":0.088,"ind":0.086,"fug":0.005,"dsl":0.194,"gas":0.002,"nex":0.002,"avi":0.002,"off":0.041,"shp":0.048,"osc":0.008,"liv":0.003},
{"d":201,"pp":0.088,"ind":0.086,"fug":0.005,"dsl":0.194,"gas":0.002,"nex":0.002,"avi":0.002,"off":0.041,"shp":0.048,"osc":0.010,"liv":0.003},
{"d":202,"pp":0.088,"ind":0.086,"fug":0.005,"dsl":0.194,"gas":0.002,"nex":0.002,"avi":0.002,"off":0.041,"shp":0.048,"osc":0.011,"liv":0.003},
{"d":203,"pp":0.088,"ind":0.086,"fug":0.005,"dsl":0.194,"gas":0.002,"nex":0.002,"avi":0.002,"off":0.041,"shp":0.048,"osc":0.009,"liv":0.003},
{"d":204,"pp":0.088,"ind":0.086,"fug":0.005,"dsl":0.194,"gas":0.002,"nex":0.002,"avi":0.002,"off":0.041,"shp":0.048,"osc":0.005,"liv":0.003},
{"d":205,"pp":0.072,"ind":0.067,"fug":0.003,"dsl":0.051,"gas":0.001,"nex":0.001,"avi":0.001,"off":0.001,"shp":0.001,"osc":0.001,"liv":0.001},
{"d":206,"pp":0.072,"ind":0.067,"fug":0.003,"dsl":0.051,"gas":0.001,"nex":0.001,"avi":0.001,"off":0.001,"shp":0.001,"osc":0.001,"liv":0.001},
{"d":207,"pp":0.088,"ind":0.086,"fug":0.005,"dsl":0.194,"gas":0.002,"nex":0.002,"avi":0.002,"off":0.041,"shp":0.048,"osc":0.022,"liv":0.003},
{"d":208,"pp":0.088,"ind":0.086,"fug":0.005,"dsl":0.194,"gas":0.002,"nex":0.002,"avi":0.002,"off":0.041,"shp":0.048,"osc":0.019,"liv":0.003},
{"d":209,"pp":0.088,"ind":0.086,"fug":0.005,"dsl":0.194,"gas":0.002,"nex":0.002,"avi":0.002,"off":0.041,"shp":0.048,"osc":0.023,"liv":0.003},
{"d":210,"pp":0.088,"ind":0.086,"fug":0.005,"dsl":0.194,"gas":0.002,"nex":0.002,"avi":0.002,"off":0.041,"shp":0.048,"osc":0.020,"liv":0.003},
{"d":211,"pp":0.088,"ind":0.086,"fug":0.005,"dsl":0.194,"gas":0.002,"nex":0.002,"avi":0.002,"off":0.041,"shp":0.048,"osc":0.021,"liv":0.003},
{"d":212,"pp":0.072,"ind":0.067,"fug":0.003,"dsl":0.051,"gas":0.001,"nex":0.001,"avi":0.001,"off":0.001,"shp":0.001,"osc":0.001,"liv":0.001},
{"d":213,"pp":0.072,"ind":0.067,"fug":0.003,"dsl":0.051,"gas":0.001,"nex":0.001,"avi":0.001,"off":0.001,"shp":0.001,"osc":0.001,"liv":0.001},
{"d":214,"pp":0.088,"ind":0.086,"fug":0.005,"dsl":0.194,"gas":0.002,"nex":0.002,"avi":0.002,"off":0.041,"shp":0.048,"osc":0.013,"liv":0.003},
{"d":215,"pp":0.088,"ind":0.086,"fug":0.005,"dsl":0.194,"gas":0.002,"nex":0.002,"avi":0.002,"off":0.041,"shp":0.048,"osc":0.016,"liv":0.003},
{"d":216,"pp":0.088,"ind":0.086,"fug":0.005,"dsl":0.194,"gas":0.002,"nex":0.002,"avi":0.002,"off":0.041,"shp":0.048,"osc":0.017,"liv":0.003},
{"d":217,"pp":0.088,"ind":0.086,"fug":0.005,"dsl":0.194,"gas":0.002,"nex":0.002,"avi":0.002,"off":0.041,"shp":0.048,"osc":0.018,"liv":0.003},
{"d":218,"pp":0.088,"ind":0.086,"fug":0.005,"dsl":0.194,"gas":0.002,"nex":0.002,"avi":0.002,"off":0.041,"shp":0.048,"osc":0.014,"liv":0.003},
{"d":219,"pp":0.072,"ind":0.067,"fug":0.003,"dsl":0.051,"gas":0.001,"nex":0.001,"avi":0.001,"off":0.001,"shp":0.001,"osc":0.001,"liv":0.001},
{"d":220,"pp":0.072,"ind":0.067,"fug":0.003,"dsl":0.051,"gas":0.001,"nex":0.001,"avi":0.001,"off":0.001,"shp":0.001,"osc":0.001,"liv":0.001},
{"d":221,"pp":0.088,"ind":0.086,"fug":0.005,"dsl":0.194,"gas":0.002,"nex":0.002,"avi":0.002,"off":0.041,"shp":0.048,"osc":0.014,"liv":0.003},
{"d":222,"pp":0.088,"ind":0.086,"fug":0.005,"dsl":0.194,"gas":0.002,"nex":0.002,"avi":0.002,"off":0.041,"shp":0.048,"osc":0.018,"liv":0.003},
{"d":223,"pp":0.088,"ind":0.086,"fug":0.005,"dsl":0.194,"gas":0.002,"nex":0.002,"avi":0.002,"off":0.041,"shp":0.048,"osc":0.016,"liv":0.003},
{"d":224,"pp":0.088,"ind":0.086,"fug":0.005,"dsl":0.194,"gas":0.002,"nex":0.002,"avi":0.002,"off":0.041,"shp":0.048,"osc":0.017,"liv":0.003},
{"d":225,"pp":0.088,"ind":0.086,"fug":0.005,"dsl":0.194,"gas":0.002,"nex":0.002,"avi":0.002,"off":0.041,"shp":0.048,"osc":0.013,"liv":0.003},
{"d":226,"pp":0.072,"ind":0.067,"fug":0.003,"dsl":0.051,"gas":0.001,"nex":0.001,"avi":0.001,"off":0.001,"shp":0.001,"osc":0.001,"liv":0.001},
{"d":227,"pp":0.072,"ind":0.067,"fug":0.003,"dsl":0.051,"gas":0.001,"nex":0.001,"avi":0.001,"off":0.001,"shp":0.001,"osc":0.001,"liv":0.001},
{"d":228,"pp":0.088,"ind":0.086,"fug":0.005,"dsl":0.194,"gas":0.002,"nex":0.002,"avi":0.002,"off":0.041,"shp":0.048,"osc":0.022,"liv":0.003},
{"d":229,"pp":0.088,"ind":0.086,"fug":0.005,"dsl":0.194,"gas":0.002,"nex":0.002,"avi":0.002,"off":0.041,"shp":0.048,"osc":0.024,"liv":0.003},
{"d":230,"pp":0.088,"ind":0.086,"fug":0.005,"dsl":0.194,"gas":0.002,"nex":0.002,"avi":0.002,"off":0.041,"shp":0.048,"osc":0.025,"liv":0.003},
{"d":231,"pp":0.088,"ind":0.086,"fug":0.005,"dsl":0.194,"gas":0.002,"nex":0.002,"avi":0.002,"off":0.041,"shp":0.048,"osc":0.023,"liv":0.003},
{"d":232,"pp":0.088,"ind":0.086,"fug":0.005,"dsl":0.194,"gas":0.002,"nex":0.002,"avi":0.002,"off":0.041,"shp":0.048,"osc":0.019,"liv":0.003},
{"d":233,"pp":0.072,"ind":0.064,"fug":0.003,"dsl":0.051,"gas":0.001,"nex":0.001,"avi":0.001,"off":0.001,"shp":0.001,"osc":0.001,"liv":0.001},
{"d":234,"pp":0.072,"ind":0.064,"fug":0.003,"dsl":0.051,"gas":0.001,"nex":0.001,"avi":0.001,"off":0.001,"shp":0.001,"osc":0.001,"liv":0.001},
{"d":235,"pp":0.090,"ind":0.087,"fug":0.005,"dsl":0.194,"gas":0.002,"nex":0.002,"avi":0.002,"off":0.041,"shp":0.048,"osc":0.017,"liv":0.003},
{"d":236,"pp":0.090,"ind":0.087,"fug":0.005,"dsl":0.194,"gas":0.002,"nex":0.002,"avi":0.002,"off":0.041,"shp":0.048,"osc":0.014,"liv":0.003},
{"d":237,"pp":0.090,"ind":0.087,"fug":0.005,"dsl":0.194,"gas":0.002,"nex":0.002,"avi":0.002,"off":0.041,"shp":0.048,"osc":0.018,"liv":0.003},
{"d":238,"pp":0.090,"ind":0.087,"fug":0.005,"dsl":0.194,"gas":0.002,"nex":0.002,"avi":0.002,"off":0.041,"shp":0.048,"osc":0.015,"liv":0.003},
{"d":239,"pp":0.090,"ind":0.087,"fug":0.005,"dsl":0.194,"gas":0.002,"nex":0.002,"avi":0.002,"off":0.041,"shp":0.048,"osc":0.016,"liv":0.003},
{"d":240,"pp":0.073,"ind":0.064,"fug":0.003,"dsl":0.051,"gas":0.001,"nex":0.001,"avi":0.001,"off":0.001,"shp":0.001,"osc":0.001,"liv":0.001},
{"d":241,"pp":0.073,"ind":0.064,"fug":0.003,"dsl":0.051,"gas":0.001,"nex":0.001,"avi":0.001,"off":0.001,"shp":0.001,"osc":0.001,"liv":0.001},
{"d":242,"pp":0.097,"ind":0.092,"fug":0.005,"dsl":0.208,"gas":0.002,"nex":0.002,"avi":0.002,"off":0.041,"shp":0.052,"osc":0.011,"liv":0.003},
{"d":243,"pp":0.097,"ind":0.092,"fug":0.005,"dsl":0.208,"gas":0.002,"nex":0.002,"avi":0.002,"off":0.041,"shp":0.052,"osc":0.014,"liv":0.003},
{"d":244,"pp":0.097,"ind":0.092,"fug":0.005,"dsl":0.208,"gas":0.002,"nex":0.002,"avi":0.002,"off":0.041,"shp":0.052,"osc":0.015,"liv":0.003},
{"d":245,"pp":0.097,"ind":0.092,"fug":0.005,"dsl":0.208,"gas":0.002,"nex":0.002,"avi":0.002,"off":0.041,"shp":0.052,"osc":0.016,"liv":0.003},
{"d":246,"pp":0.097,"ind":0.092,"fug":0.005,"dsl":0.208,"gas":0.002,"nex":0.002,"avi":0.002,"off":0.041,"shp":0.052,"osc":0.012,"liv":0.003},
{"d":247,"pp":0.072,"ind":0.076,"fug":0.003,"dsl":0.057,"gas":0.001,"nex":0.001,"avi":0.001,"off":0.001,"shp":0.001,"osc":0.001,"liv":0.001},
{"d":248,"pp":0.072,"ind":0.076,"fug":0.003,"dsl":0.057,"gas":0.001,"nex":0.001,"avi":0.001,"off":0.001,"shp":0.001,"osc":0.001,"liv":0.001},
{"d":249,"pp":0.098,"ind":0.092,"fug":0.005,"dsl":0.207,"gas":0.002,"nex":0.002,"avi":0.002,"off":0.041,"shp":0.052,"osc":0.009,"liv":0.003},
{"d":250,"pp":0.098,"ind":0.092,"fug":0.005,"dsl":0.207,"gas":0.002,"nex":0.002,"avi":0.002,"off":0.041,"shp":0.052,"osc":0.013,"liv":0.003},
{"d":251,"pp":0.098,"ind":0.092,"fug":0.005,"dsl":0.207,"gas":0.002,"nex":0.002,"avi":0.002,"off":0.041,"shp":0.052,"osc":0.011,"liv":0.003},
{"d":252,"pp":0.098,"ind":0.092,"fug":0.005,"dsl":0.207,"gas":0.002,"nex":0.002,"avi":0.002,"off":0.041,"shp":0.052,"osc":0.012,"liv":0.003},
{"d":253,"pp":0.098,"ind":0.092,"fug":0.005,"dsl":0.207,"gas":0.002,"nex":0.002,"avi":0.002,"off":0.041,"shp":0.052,"osc":0.008,"liv":0.003},
{"d":254,"pp":0.073,"ind":0.075,"fug":0.003,"dsl":0.057,"gas":0.001,"nex":0.001,"avi":0.001,"off":0.001,"shp":0.001,"osc":0.001,"liv":0.001},
{"d":255,"pp":0.073,"ind":0.075,"fug":0.003,"dsl":0.057,"gas":0.001,"nex":0.001,"avi":0.001,"off":0.001,"shp":0.001,"osc":0.001,"liv":0.001},
{"d":256,"pp":0.100,"ind":0.090,"fug":0.005,"dsl":0.207,"gas":0.002,"nex":0.002,"avi":0.002,"off":0.041,"shp":0.052,"osc":0.010,"liv":0.003},
{"d":257,"pp":0.100,"ind":0.090,"fug":0.005,"dsl":0.207,"gas":0.002,"nex":0.002,"avi":0.002,"off":0.041,"shp":0.052,"osc":0.012,"liv":0.003},
{"d":258,"pp":0.100,"ind":0.090,"fug":0.005,"dsl":0.207,"gas":0.002,"nex":0.002,"avi":0.002,"off":0.041,"shp":0.052,"osc":0.013,"liv":0.003},
{"d":259,"pp":0.100,"ind":0.090,"fug":0.005,"dsl":0.207,"gas":0.002,"nex":0.002,"avi":0.002,"off":0.041,"shp":0.052,"osc":0.011,"liv":0.003},
{"d":260,"pp":0.100,"ind":0.090,"fug":0.005,"dsl":0.207,"gas":0.002,"nex":0.002,"avi":0.002,"off":0.041,"shp":0.052,"osc":0.007,"liv":0.003},
{"d":261,"pp":0.075,"ind":0.073,"fug":0.003,"dsl":0.057,"gas":0.001,"nex":0.001,"avi":0.001,"off":0.001,"shp":0.001,"osc":0.001,"liv":0.001},
{"d":262,"pp":0.075,"ind":0.073,"fug":0.003,"dsl":0.057,"gas":0.001,"nex":0.001,"avi":0.001,"off":0.001,"shp":0.001,"osc":0.001,"liv":0.001},
{"d":263,"pp":0.102,"ind":0.088,"fug":0.005,"dsl":0.207,"gas":0.002,"nex":0.002,"avi":0.002,"off":0.041,"shp":0.052,"osc":0.018,"liv":0.003},
{"d":264,"pp":0.102,"ind":0.088,"fug":0.005,"dsl":0.207,"gas":0.002,"nex":0.002,"avi":0.002,"off":0.041,"shp":0.052,"osc":0.015,"liv":0.003},
{"d":265,"pp":0.102,"ind":0.088,"fug":0.005,"dsl":0.207,"gas":0.002,"nex":0.002,"avi":0.002,"off":0.041,"shp":0.052,"osc":0.019,"liv":0.003},
{"d":266,"pp":0.102,"ind":0.088,"fug":0.005,"dsl":0.207,"gas":0.002,"nex":0.002,"avi":0.002,"off":0.041,"shp":0.052,"osc":0.016,"liv":0.003},
{"d":267,"pp":0.102,"ind":0.088,"fug":0.005,"dsl":0.207,"gas":0.002,"nex":0.002,"avi":0.002,"off":0.041,"shp":0.052,"osc":0.017,"liv":0.003},
{"d":268,"pp":0.077,"ind":0.071,"fug":0.003,"dsl":0.057,"gas":0.001,"nex":0.001,"avi":0.001,"off":0.001,"shp":0.001,"osc":0.001,"liv":0.001},
{"d":269,"pp":0.077,"ind":0.071,"fug":0.003,"dsl":0.057,"gas":0.001,"nex":0.001,"avi":0.001,"off":0.001,"shp":0.001,"osc":0.001,"liv":0.001},
{"d":270,"pp":0.106,"ind":0.089,"fug":0.005,"dsl":0.204,"gas":0.002,"nex":0.002,"avi":0.002,"off":0.041,"shp":0.05,"osc":0.016,"liv":0.003},
{"d":271,"pp":0.106,"ind":0.089,"fug":0.005,"dsl":0.204,"gas":0.002,"nex":0.002,"avi":0.002,"off":0.041,"shp":0.05,"osc":0.019,"liv":0.003},
{"d":272,"pp":0.106,"ind":0.089,"fug":0.005,"dsl":0.204,"gas":0.002,"nex":0.002,"avi":0.002,"off":0.041,"shp":0.05,"osc":0.020,"liv":0.003},
{"d":273,"pp":0.106,"ind":0.089,"fug":0.005,"dsl":0.204,"gas":0.002,"nex":0.002,"avi":0.002,"off":0.041,"shp":0.05,"osc":0.021,"liv":0.003},
{"d":274,"pp":0.106,"ind":0.089,"fug":0.005,"dsl":0.204,"gas":0.002,"nex":0.002,"avi":0.002,"off":0.041,"shp":0.05,"osc":0.017,"liv":0.003},
{"d":275,"pp":0.078,"ind":0.074,"fug":0.003,"dsl":0.063,"gas":0.001,"nex":0.001,"avi":0.001,"off":0.001,"shp":0.001,"osc":0.001,"liv":0.001},
{"d":276,"pp":0.078,"ind":0.074,"fug":0.003,"dsl":0.063,"gas":0.001,"nex":0.001,"avi":0.001,"off":0.001,"shp":0.001,"osc":0.001,"liv":0.001},
{"d":277,"pp":0.109,"ind":0.086,"fug":0.005,"dsl":0.204,"gas":0.002,"nex":0.002,"avi":0.002,"off":0.041,"shp":0.05,"osc":0.022,"liv":0.003},
{"d":278,"pp":0.109,"ind":0.086,"fug":0.005,"dsl":0.204,"gas":0.002,"nex":0.002,"avi":0.002,"off":0.041,"shp":0.05,"osc":0.026,"liv":0.003},
{"d":279,"pp":0.109,"ind":0.086,"fug":0.005,"dsl":0.204,"gas":0.002,"nex":0.002,"avi":0.002,"off":0.041,"shp":0.05,"osc":0.024,"liv":0.003},
{"d":280,"pp":0.109,"ind":0.086,"fug":0.005,"dsl":0.204,"gas":0.002,"nex":0.002,"avi":0.002,"off":0.041,"shp":0.05,"osc":0.025,"liv":0.003},
{"d":281,"pp":0.109,"ind":0.086,"fug":0.005,"dsl":0.204,"gas":0.002,"nex":0.002,"avi":0.002,"off":0.041,"shp":0.05,"osc":0.021,"liv":0.003},
{"d":282,"pp":0.081,"ind":0.071,"fug":0.003,"dsl":0.063,"gas":0.001,"nex":0.001,"avi":0.001,"off":0.001,"shp":0.001,"osc":0.001,"liv":0.001},
{"d":283,"pp":0.081,"ind":0.071,"fug":0.003,"dsl":0.063,"gas":0.001,"nex":0.001,"avi":0.001,"off":0.001,"shp":0.001,"osc":0.001,"liv":0.001},
{"d":284,"pp":0.112,"ind":0.083,"fug":0.005,"dsl":0.204,"gas":0.002,"nex":0.002,"avi":0.002,"off":0.041,"shp":0.05,"osc":0.013,"liv":0.003},
{"d":285,"pp":0.112,"ind":0.083,"fug":0.005,"dsl":0.204,"gas":0.002,"nex":0.002,"avi":0.002,"off":0.041,"shp":0.05,"osc":0.015,"liv":0.003},
{"d":286,"pp":0.112,"ind":0.083,"fug":0.005,"dsl":0.204,"gas":0.002,"nex":0.002,"avi":0.002,"off":0.041,"shp":0.05,"osc":0.016,"liv":0.003},
{"d":287,"pp":0.112,"ind":0.083,"fug":0.005,"dsl":0.204,"gas":0.002,"nex":0.002,"avi":0.002,"off":0.041,"shp":0.05,"osc":0.014,"liv":0.003},
{"d":288,"pp":0.112,"ind":0.083,"fug":0.005,"dsl":0.204,"gas":0.002,"nex":0.002,"avi":0.002,"off":0.041,"shp":0.05,"osc":0.010,"liv":0.003},
{"d":289,"pp":0.084,"ind":0.068,"fug":0.003,"dsl":0.063,"gas":0.001,"nex":0.001,"avi":0.001,"off":0.001,"shp":0.001,"osc":0.001,"liv":0.001},
{"d":290,"pp":0.084,"ind":0.068,"fug":0.003,"dsl":0.063,"gas":0.001,"nex":0.001,"avi":0.001,"off":0.001,"shp":0.001,"osc":0.001,"liv":0.001},
{"d":291,"pp":0.113,"ind":0.082,"fug":0.005,"dsl":0.204,"gas":0.002,"nex":0.002,"avi":0.002,"off":0.041,"shp":0.05,"osc":0.025,"liv":0.003},
{"d":292,"pp":0.113,"ind":0.082,"fug":0.005,"dsl":0.204,"gas":0.002,"nex":0.002,"avi":0.002,"off":0.041,"shp":0.05,"osc":0.022,"liv":0.003},
{"d":293,"pp":0.113,"ind":0.082,"fug":0.005,"dsl":0.204,"gas":0.002,"nex":0.002,"avi":0.002,"off":0.041,"shp":0.05,"osc":0.026,"liv":0.003},
{"d":294,"pp":0.113,"ind":0.082,"fug":0.005,"dsl":0.204,"gas":0.002,"nex":0.002,"avi":0.002,"off":0.041,"shp":0.05,"osc":0.023,"liv":0.003},
{"d":295,"pp":0.113,"ind":0.082,"fug":0.005,"dsl":0.204,"gas":0.002,"nex":0.002,"avi":0.002,"off":0.041,"shp":0.05,"osc":0.024,"liv":0.003},
{"d":296,"pp":0.085,"ind":0.067,"fug":0.003,"dsl":0.063,"gas":0.001,"nex":0.001,"avi":0.001,"off":0.001,"shp":0.001,"osc":0.001,"liv":0.001},
{"d":297,"pp":0.085,"ind":0.067,"fug":0.003,"dsl":0.063,"gas":0.001,"nex":0.001,"avi":0.001,"off":0.001,"shp":0.001,"osc":0.001,"liv":0.001},
{"d":298,"pp":0.115,"ind":0.080,"fug":0.005,"dsl":0.204,"gas":0.002,"nex":0.002,"avi":0.002,"off":0.041,"shp":0.05,"osc":0.016,"liv":0.003},
{"d":299,"pp":0.115,"ind":0.080,"fug":0.005,"dsl":0.204,"gas":0.002,"nex":0.002,"avi":0.002,"off":0.041,"shp":0.05,"osc":0.019,"liv":0.003},
{"d":300,"pp":0.115,"ind":0.080,"fug":0.005,"dsl":0.204,"gas":0.002,"nex":0.002,"avi":0.002,"off":0.041,"shp":0.05,"osc":0.020,"liv":0.003},
{"d":301,"pp":0.115,"ind":0.080,"fug":0.005,"dsl":0.204,"gas":0.002,"nex":0.002,"avi":0.002,"off":0.041,"shp":0.05,"osc":0.021,"liv":0.003},
{"d":302,"pp":0.115,"ind":0.080,"fug":0.005,"dsl":0.204,"gas":0.002,"nex":0.002,"avi":0.002,"off":0.041,"shp":0.05,"osc":0.017,"liv":0.003},
{"d":303,"pp":0.087,"ind":0.065,"fug":0.003,"dsl":0.063,"gas":0.001,"nex":0.001,"avi":0.001,"off":0.001,"shp":0.001,"osc":0.001,"liv":0.001},
{"d":304,"pp":0.087,"ind":0.065,"fug":0.003,"dsl":0.063,"gas":0.001,"nex":0.001,"avi":0.001,"off":0.001,"shp":0.001,"osc":0.001,"liv":0.001},
{"d":305,"pp":0.117,"ind":0.083,"fug":0.005,"dsl":0.199,"gas":0.002,"nex":0.002,"avi":0.002,"off":0.041,"shp":0.05,"osc":0.022,"liv":0.003},
{"d":306,"pp":0.117,"ind":0.083,"fug":0.005,"dsl":0.199,"gas":0.002,"nex":0.002,"avi":0.002,"off":0.041,"shp":0.05,"osc":0.026,"liv":0.003},
{"d":307,"pp":0.117,"ind":0.083,"fug":0.005,"dsl":0.199,"gas":0.002,"nex":0.002,"avi":0.002,"off":0.041,"shp":0.05,"osc":0.024,"liv":0.003},
{"d":308,"pp":0.117,"ind":0.083,"fug":0.005,"dsl":0.199,"gas":0.002,"nex":0.002,"avi":0.002,"off":0.041,"shp":0.05,"osc":0.025,"liv":0.003},
{"d":309,"pp":0.117,"ind":0.083,"fug":0.005,"dsl":0.199,"gas":0.002,"nex":0.002,"avi":0.002,"off":0.041,"shp":0.05,"osc":0.021,"liv":0.003},
{"d":310,"pp":0.089,"ind":0.068,"fug":0.003,"dsl":0.067,"gas":0.001,"nex":0.001,"avi":0.001,"off":0.001,"shp":0.001,"osc":0.001,"liv":0.001},
{"d":311,"pp":0.089,"ind":0.068,"fug":0.003,"dsl":0.067,"gas":0.001,"nex":0.001,"avi":0.001,"off":0.001,"shp":0.001,"osc":0.001,"liv":0.001},
{"d":312,"pp":0.119,"ind":0.081,"fug":0.005,"dsl":0.199,"gas":0.002,"nex":0.002,"avi":0.002,"off":0.041,"shp":0.05,"osc":0.030,"liv":0.003},
{"d":313,"pp":0.119,"ind":0.081,"fug":0.005,"dsl":0.199,"gas":0.002,"nex":0.002,"avi":0.002,"off":0.041,"shp":0.05,"osc":0.032,"liv":0.003},
{"d":314,"pp":0.119,"ind":0.081,"fug":0.005,"dsl":0.199,"gas":0.002,"nex":0.002,"avi":0.002,"off":0.041,"shp":0.05,"osc":0.033,"liv":0.003},
{"d":315,"pp":0.119,"ind":0.081,"fug":0.005,"dsl":0.199,"gas":0.002,"nex":0.002,"avi":0.002,"off":0.041,"shp":0.05,"osc":0.031,"liv":0.003},
{"d":316,"pp":0.119,"ind":0.081,"fug":0.005,"dsl":0.199,"gas":0.002,"nex":0.002,"avi":0.002,"off":0.041,"shp":0.05,"osc":0.027,"liv":0.003},
{"d":317,"pp":0.089,"ind":0.068,"fug":0.003,"dsl":0.067,"gas":0.001,"nex":0.001,"avi":0.001,"off":0.001,"shp":0.001,"osc":0.001,"liv":0.001},
{"d":318,"pp":0.089,"ind":0.068,"fug":0.003,"dsl":0.067,"gas":0.001,"nex":0.001,"avi":0.001,"off":0.001,"shp":0.001,"osc":0.001,"liv":0.001},
{"d":319,"pp":0.119,"ind":0.081,"fug":0.005,"dsl":0.199,"gas":0.002,"nex":0.002,"avi":0.002,"off":0.041,"shp":0.05,"osc":0.035,"liv":0.003},
{"d":320,"pp":0.119,"ind":0.081,"fug":0.005,"dsl":0.199,"gas":0.002,"nex":0.002,"avi":0.002,"off":0.041,"shp":0.05,"osc":0.032,"liv":0.003},
{"d":321,"pp":0.119,"ind":0.081,"fug":0.005,"dsl":0.199,"gas":0.002,"nex":0.002,"avi":0.002,"off":0.041,"shp":0.05,"osc":0.036,"liv":0.003},
{"d":322,"pp":0.119,"ind":0.081,"fug":0.005,"dsl":0.199,"gas":0.002,"nex":0.002,"avi":0.002,"off":0.041,"shp":0.05,"osc":0.033,"liv":0.003},
{"d":323,"pp":0.119,"ind":0.081,"fug":0.005,"dsl":0.199,"gas":0.002,"nex":0.002,"avi":0.002,"off":0.041,"shp":0.05,"osc":0.034,"liv":0.003},
{"d":324,"pp":0.089,"ind":0.068,"fug":0.003,"dsl":0.067,"gas":0.001,"nex":0.001,"avi":0.001,"off":0.001,"shp":0.001,"osc":0.001,"liv":0.001},
{"d":325,"pp":0.089,"ind":0.068,"fug":0.003,"dsl":0.067,"gas":0.001,"nex":0.001,"avi":0.001,"off":0.001,"shp":0.001,"osc":0.001,"liv":0.001},
{"d":326,"pp":0.119,"ind":0.081,"fug":0.005,"dsl":0.199,"gas":0.002,"nex":0.002,"avi":0.002,"off":0.041,"shp":0.05,"osc":0.067,"liv":0.003},
{"d":327,"pp":0.119,"ind":0.081,"fug":0.005,"dsl":0.199,"gas":0.002,"nex":0.002,"avi":0.002,"off":0.041,"shp":0.05,"osc":0.070,"liv":0.003},
{"d":328,"pp":0.119,"ind":0.081,"fug":0.005,"dsl":0.199,"gas":0.002,"nex":0.002,"avi":0.002,"off":0.041,"shp":0.05,"osc":0.071,"liv":0.003},
{"d":329,"pp":0.119,"ind":0.081,"fug":0.005,"dsl":0.199,"gas":0.002,"nex":0.002,"avi":0.002,"off":0.041,"shp":0.05,"osc":0.072,"liv":0.003},
{"d":330,"pp":0.119,"ind":0.081,"fug":0.005,"dsl":0.199,"gas":0.002,"nex":0.002,"avi":0.002,"off":0.041,"shp":0.05,"osc":0.068,"liv":0.003},
{"d":331,"pp":0.089,"ind":0.068,"fug":0.003,"dsl":0.067,"gas":0.001,"nex":0.001,"avi":0.001,"off":0.001,"shp":0.001,"osc":0.001,"liv":0.001},
{"d":332,"pp":0.089,"ind":0.068,"fug":0.003,"dsl":0.067,"gas":0.001,"nex":0.001,"avi":0.001,"off":0.001,"shp":0.001,"osc":0.001,"liv":0.001},
{"d":333,"pp":0.119,"ind":0.081,"fug":0.005,"dsl":0.199,"gas":0.002,"nex":0.002,"avi":0.002,"off":0.041,"shp":0.05,"osc":0.039,"liv":0.003},
{"d":334,"pp":0.119,"ind":0.081,"fug":0.005,"dsl":0.199,"gas":0.002,"nex":0.002,"avi":0.002,"off":0.041,"shp":0.05,"osc":0.043,"liv":0.003},
{"d":335,"pp":0.119,"ind":0.081,"fug":0.005,"dsl":0.199,"gas":0.002,"nex":0.002,"avi":0.002,"off":0.041,"shp":0.05,"osc":0.041,"liv":0.003},
{"d":336,"pp":0.119,"ind":0.081,"fug":0.005,"dsl":0.199,"gas":0.002,"nex":0.002,"avi":0.002,"off":0.041,"shp":0.05,"osc":0.042,"liv":0.003},
{"d":337,"pp":0.119,"ind":0.081,"fug":0.005,"dsl":0.199,"gas":0.002,"nex":0.002,"avi":0.002,"off":0.041,"shp":0.05,"osc":0.038,"liv":0.003},
{"d":338,"pp":0.089,"ind":0.068,"fug":0.003,"dsl":0.067,"gas":0.001,"nex":0.001,"avi":0.001,"off":0.001,"shp":0.001,"osc":0.001,"liv":0.001},
{"d":339,"pp":0.089,"ind":0.068,"fug":0.003,"dsl":0.067,"gas":0.001,"nex":0.001,"avi":0.001,"off":0.001,"shp":0.001,"osc":0.001,"liv":0.001},
{"d":340,"pp":0.119,"ind":0.081,"fug":0.005,"dsl":0.199,"gas":0.002,"nex":0.002,"avi":0.002,"off":0.041,"shp":0.05,"osc":0.053,"liv":0.003},
{"d":341,"pp":0.119,"ind":0.081,"fug":0.005,"dsl":0.199,"gas":0.002,"nex":0.002,"avi":0.002,"off":0.041,"shp":0.05,"osc":0.055,"liv":0.003},
{"d":342,"pp":0.119,"ind":0.081,"fug":0.005,"dsl":0.199,"gas":0.002,"nex":0.002,"avi":0.002,"off":0.041,"shp":0.05,"osc":0.056,"liv":0.003},
{"d":343,"pp":0.119,"ind":0.081,"fug":0.005,"dsl":0.199,"gas":0.002,"nex":0.002,"avi":0.002,"off":0.041,"shp":0.05,"osc":0.054,"liv":0.003},
{"d":344,"pp":0.119,"ind":0.081,"fug":0.005,"dsl":0.199,"gas":0.002,"nex":0.002,"avi":0.002,"off":0.041,"shp":0.05,"osc":0.050,"liv":0.003},
{"d":345,"pp":0.089,"ind":0.068,"fug":0.003,"dsl":0.067,"gas":0.001,"nex":0.001,"avi":0.001,"off":0.001,"shp":0.001,"osc":0.001,"liv":0.001},
{"d":346,"pp":0.089,"ind":0.068,"fug":0.003,"dsl":0.067,"gas":0.001,"nex":0.001,"avi":0.001,"off":0.001,"shp":0.001,"osc":0.001,"liv":0.001},
{"d":347,"pp":0.119,"ind":0.081,"fug":0.005,"dsl":0.199,"gas":0.002,"nex":0.002,"avi":0.002,"off":0.041,"shp":0.05,"osc":0.045,"liv":0.003},
{"d":348,"pp":0.119,"ind":0.081,"fug":0.005,"dsl":0.199,"gas":0.002,"nex":0.002,"avi":0.002,"off":0.041,"shp":0.05,"osc":0.042,"liv":0.003},
{"d":349,"pp":0.119,"ind":0.081,"fug":0.005,"dsl":0.199,"gas":0.002,"nex":0.002,"avi":0.002,"off":0.041,"shp":0.05,"osc":0.046,"liv":0.003},
{"d":350,"pp":0.119,"ind":0.081,"fug":0.005,"dsl":0.199,"gas":0.002,"nex":0.002,"avi":0.002,"off":0.041,"shp":0.05,"osc":0.043,"liv":0.003},
{"d":351,"pp":0.119,"ind":0.081,"fug":0.005,"dsl":0.199,"gas":0.002,"nex":0.002,"avi":0.002,"off":0.041,"shp":0.05,"osc":0.044,"liv":0.003},
{"d":352,"pp":0.089,"ind":0.068,"fug":0.003,"dsl":0.067,"gas":0.001,"nex":0.001,"avi":0.001,"off":0.001,"shp":0.001,"osc":0.001,"liv":0.001},
{"d":353,"pp":0.089,"ind":0.068,"fug":0.003,"dsl":0.067,"gas":0.001,"nex":0.001,"avi":0.001,"off":0.001,"shp":0.001,"osc":0.001,"liv":0.001},
{"d":354,"pp":0.119,"ind":0.081,"fug":0.005,"dsl":0.199,"gas":0.002,"nex":0.002,"avi":0.002,"off":0.041,"shp":0.05,"osc":0.031,"liv":0.003},
{"d":355,"pp":0.119,"ind":0.081,"fug":0.005,"dsl":0.199,"gas":0.002,"nex":0.002,"avi":0.002,"off":0.041,"shp":0.05,"osc":0.034,"liv":0.003},
{"d":356,"pp":0.119,"ind":0.081,"fug":0.005,"dsl":0.199,"gas":0.002,"nex":0.002,"avi":0.002,"off":0.041,"shp":0.05,"osc":0.035,"liv":0.003},
{"d":357,"pp":0.119,"ind":0.081,"fug":0.005,"dsl":0.199,"gas":0.002,"nex":0.002,"avi":0.002,"off":0.041,"shp":0.05,"osc":0.036,"liv":0.003},
{"d":358,"pp":0.119,"ind":0.081,"fug":0.005,"dsl":0.199,"gas":0.002,"nex":0.002,"avi":0.002,"off":0.041,"shp":0.05,"osc":0.032,"liv":0.003},
{"d":359,"pp":0.089,"ind":0.068,"fug":0.003,"dsl":0.067,"gas":0.001,"nex":0.001,"avi":0.001,"off":0.001,"shp":0.001,"osc":0.001,"liv":0.001},
{"d":360,"pp":0.089,"ind":0.068,"fug":0.003,"dsl":0.067,"gas":0.001,"nex":0.001,"avi":0.001,"off":0.001,"shp":0.001,"osc":0.001,"liv":0.001},
{"d":361,"pp":0.119,"ind":0.081,"fug":0.005,"dsl":0.199,"gas":0.002,"nex":0.002,"avi":0.002,"off":0.041,"shp":0.05,"osc":0.045,"liv":0.003},
{"d":362,"pp":0.119,"ind":0.081,"fug":0.005,"dsl":0.199,"gas":0.002,"nex":0.002,"avi":0.002,"off":0.041,"shp":0.05,"osc":0.049,"liv":0.003},
{"d":363,"pp":0.119,"ind":0.081,"fug":0.005,"dsl":0.199,"gas":0.002,"nex":0.002,"avi":0.002,"off":0.041,"shp":0.05,"osc":0.047,"liv":0.003},
{"d":364,"pp":0.119,"ind":0.081,"fug":0.005,"dsl":0.199,"gas":0.002,"nex":0.002,"avi":0.002,"off":0.041,"shp":0.05,"osc":0.048,"liv":0.003}
]},
"transform":[
{"fold":["pp","ind","fug","dsl","gas","nex","avi","off","shp","osc","liv"],"as":["key","v"]},
{"lookup":"key","from":{"data":{"name":"cat"},"key":"key","fields":["name","k"]}}
],
"mark":{"type":"area","interpolate":"linear"},
"encoding":{
"x":{"field":"d","type":"quantitative","scale":{"domain":[-18.25,383.25],"nice":false,"zero":false},"axis":{"values":[0,50,100,150,200,250,300,350],"title":"Day","titlePadding":-1,"labelPadding":1.5,"domain":true,"domainColor":"#555","zindex":1,"labelFlush":false}},
"y":{"field":"v","type":"quantitative","stack":"zero","scale":{"domain":[0,0.633],"nice":false},"axis":{"values":[0,0.1,0.2,0.3,0.4,0.5,0.6],"format":".1f","title":"Gg N month⁻¹","titlePadding":2,"domain":false}},
"color":{"field":"name","type":"nominal","scale":{"domain":["Public Power","Industry","Fugitives","Solvents","RoadTransport exhaust LPG gas","RoadTransport exhaust diesel","RoadTransport exhaust gasoline","RoadTransport non-exhaust","Aviation","OffRoad","Shipping","Other Stationary Combustion","Agricultural Livestock","Agricultural Other","Waste"],"range":["#e4e7f7","#c8b5dc","#a880c9","#8c4fac","#5e4ba6","#4a72c8","#3f9bc9","#3aab9c","#58b67c","#9cc34c","#d9b83b","#eb9b37","#e8743a","#df3228","#a31c1f"]},
"legend":{"orient":"none","legendX":580,"legendY":3,"title":null,"symbolType":"M-1,-0.35H1V0.35H-1Z","symbolSize":484,"symbolStrokeWidth":0,"symbolOffset":3,"labelOffset":12,"labelFontSize":11.8,"labelColor":"#222","clipHeight":16,"rowPadding":0.4,"padding":4,"fillColor":"rgba(255,255,255,0.8)","strokeColor":"#cccccc","cornerRadius":3,"labelLimit":300}},
"order":{"field":"k","type":"quantitative"}
}
}
